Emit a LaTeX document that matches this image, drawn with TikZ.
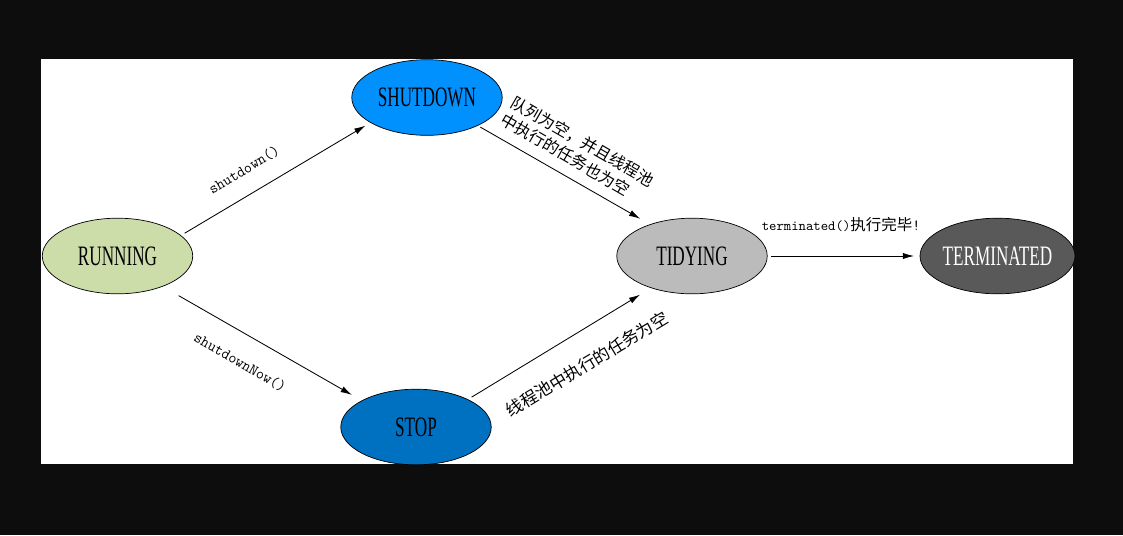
\documentclass[tikz,border=0pt]{standalone}
\usepackage{fontspec}
\setmainfont{Liberation Serif}
\newfontfamily\statefont[FakeStretch=0.61]{Liberation Serif}
\newfontfamily\cjk{Noto Sans CJK SC}
\usetikzlibrary{shapes.geometric,arrows.meta}

\definecolor{pagedark}{RGB}{13,13,13}
\definecolor{runcolor}{RGB}{204,221,170}
\definecolor{shutcolor}{RGB}{0,145,255}
\definecolor{stopcolor}{RGB}{0,112,192}
\definecolor{tidycolor}{RGB}{187,187,187}
\definecolor{termcolor}{RGB}{89,89,89}

\tikzset{
    state/.style={ellipse, draw=black, line width=0.5pt, inner sep=0pt,
        minimum width=3.76cm, minimum height=1.89cm,
        font=\statefont\fontsize{20}{22}\selectfont},
    trans/.style={black, line width=0.6pt, -{Latex[length=8pt,width=4.5pt]}},
    fnlbl/.style={inner sep=0pt, font=\ttfamily\fontsize{11}{13}\selectfont},
    cjklbl/.style={inner sep=0pt, font=\cjk\fontsize{11.5}{14.2}\selectfont},
}

\begin{document}
\begin{tikzpicture}[x=0.025cm, y=-0.025cm]
    % page
    \fill[pagedark] (0,0) rectangle (1123,535);
    \fill[white] (41,59) rectangle (1073,464);
    % states
    \node[state, fill=runcolor] (running) at (117.5,256) {RUNNING};
    \node[state, fill=shutcolor] (shutdown) at (427,97.5) {SHUTDOWN};
    \node[state, fill=stopcolor] (stop) at (416,427) {STOP};
    \node[state, fill=tidycolor] (tidying) at (692,256) {TIDYING};
    \node[state, fill=termcolor, text=white] (terminated) at (997.5,256) {TERMINATED};
    % transitions
    \draw[trans, shorten <=3pt, shorten >=4pt] (running.18) -- (shutdown.204);
    \draw[trans, shorten <=13pt, shorten >=8pt] (running.-34) -- (stop.154);
    \draw[trans, shorten <=2pt, shorten >=8pt] (shutdown.-29) -- (tidying.143);
    \draw[trans, shorten <=3pt, shorten >=9pt] (stop.28) -- (tidying.218);
    \draw[trans, shorten <=2.5pt, shorten >=4pt] (tidying.east) -- (terminated.west);
    % labels
    \node[fnlbl, rotate=31] (shutlbl) at (244,170) {shutdown()};
    \node[fnlbl, rotate=-30] (nowlbl) at (240,362) {shutdownNow()};
    \node[cjklbl, rotate=-30, align=left] (emptylbl) at (578,150) {队列为空，并且线程池\\中执行的任务也为空};
    \node[cjklbl, rotate=31, font=\cjk\fontsize{12}{15}\selectfont] (stoplbl) at (587,364) {线程池中执行的任务为空};
    \node[fnlbl, font=\ttfamily\fontsize{10}{12}\selectfont] (termlbl) at (841,225) {terminated()\cjk\fontsize{11}{12}\selectfont 执行完毕\ttfamily!};
\end{tikzpicture}
\end{document}
